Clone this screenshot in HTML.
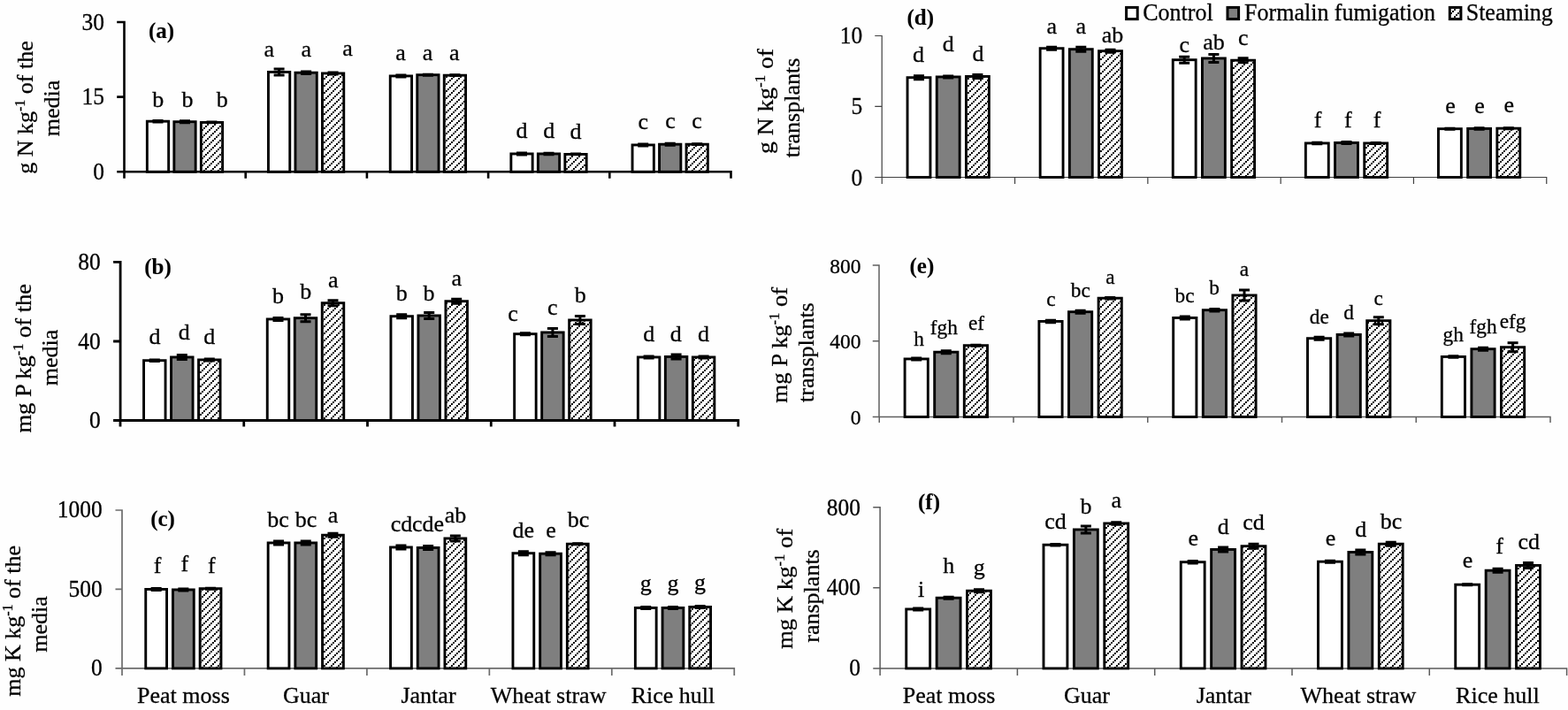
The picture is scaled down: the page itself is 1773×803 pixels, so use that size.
<!DOCTYPE html>
<html lang="en"><head><meta charset="utf-8"><title>Nutrient contents of media and transplants</title>
<style>
html,body{margin:0;padding:0;background:#fefefe;}
body{width:1773px;height:803px;overflow:hidden;}
svg{display:block;}
text{font-family:"Liberation Serif","DejaVu Serif",serif;font-size:26px;fill:#000;stroke:#000;stroke-width:0.28px;}
.m{text-anchor:middle;}.e{text-anchor:end;}.b{font-weight:bold;font-size:25px;stroke-width:0.1px;}
.sup{font-size:16px;}
.bar{stroke:#000;stroke-width:2.9;}
.eb{stroke:#000;stroke-width:3;fill:none;}
</style></head><body>
<svg width="1773" height="803" viewBox="0 0 1773 803">
<defs><pattern id="h" width="8" height="8" patternUnits="userSpaceOnUse"><rect width="8" height="8" fill="#fff"/><path d="M0,6h1.9v1.9h-1.9z M2,4h1.9v1.9h-1.9z M4,2h1.9v1.9h-1.9z M6,0h1.9v1.9h-1.9z" fill="#000"/></pattern></defs>
<rect width="1773" height="803" fill="#fefefe"/>
<g id="panel-a">
<path d="M140.5,23.7 V194.3 M132.2,194.3 H827.8 M132.2,25 H140.5 M132.2,109.6 H140.5 M140.5,194.3 V201.8 M277.7,194.3 V201.8 M414.9,194.3 V201.8 M552.1,194.3 V201.8 M689.3,194.3 V201.8 M826.5,194.3 V201.8" stroke="#000" stroke-width="2.6" fill="none"/>
<rect class="bar" x="166.35" y="137.2" width="24.3" height="57.1" fill="#fff"/>
<path class="eb" d="M178.5,136.4 V138 M172.5,136.4 H184.5 M172.5,138 H184.5"/>
<rect class="bar" x="196.85" y="137.7" width="24.3" height="56.6" fill="#7f7f7f"/>
<path class="eb" d="M209,136.7 V138.7 M203,136.7 H215 M203,138.7 H215"/>
<rect class="bar" x="227.35" y="138.45" width="24.3" height="55.85" fill="url(#h)"/>
<path class="eb" d="M239.5,138.05 V138.85 M233.5,138.05 H245.5 M233.5,138.85 H245.5"/>
<rect class="bar" x="303.45" y="81.45" width="24.3" height="112.85" fill="#fff"/>
<path class="eb" d="M315.6,77.95 V84.95 M309.6,77.95 H321.6 M309.6,84.95 H321.6"/>
<rect class="bar" x="333.95" y="82.2" width="24.3" height="112.1" fill="#7f7f7f"/>
<path class="eb" d="M346.1,81 V83.4 M340.1,81 H352.1 M340.1,83.4 H352.1"/>
<rect class="bar" x="364.45" y="82.95" width="24.3" height="111.35" fill="url(#h)"/>
<path class="eb" d="M376.6,81.95 V83.95 M370.6,81.95 H382.6 M370.6,83.95 H382.6"/>
<rect class="bar" x="441.25" y="85.95" width="24.3" height="108.35" fill="#fff"/>
<path class="eb" d="M453.4,84.95 V86.95 M447.4,84.95 H459.4 M447.4,86.95 H459.4"/>
<rect class="bar" x="471.75" y="84.7" width="24.3" height="109.6" fill="#7f7f7f"/>
<path class="eb" d="M483.9,84.2 V85.2 M477.9,84.2 H489.9 M477.9,85.2 H489.9"/>
<rect class="bar" x="502.25" y="85.2" width="24.3" height="109.1" fill="url(#h)"/>
<path class="eb" d="M514.4,84.8 V85.6 M508.4,84.8 H520.4 M508.4,85.6 H520.4"/>
<rect class="bar" x="577.85" y="173.95" width="24.3" height="20.35" fill="#fff"/>
<path class="eb" d="M590,172.95 V174.95 M584,172.95 H596 M584,174.95 H596"/>
<rect class="bar" x="608.35" y="173.95" width="24.3" height="20.35" fill="#7f7f7f"/>
<path class="eb" d="M620.5,173.15 V174.75 M614.5,173.15 H626.5 M614.5,174.75 H626.5"/>
<rect class="bar" x="638.85" y="174.45" width="24.3" height="19.85" fill="url(#h)"/>
<path class="eb" d="M651,174.05 V174.85 M645,174.05 H657 M645,174.85 H657"/>
<rect class="bar" x="715.05" y="163.95" width="24.3" height="30.35" fill="#fff"/>
<path class="eb" d="M727.2,162.95 V164.95 M721.2,162.95 H733.2 M721.2,164.95 H733.2"/>
<rect class="bar" x="745.55" y="163.2" width="24.3" height="31.1" fill="#7f7f7f"/>
<path class="eb" d="M757.7,162.2 V164.2 M751.7,162.2 H763.7 M751.7,164.2 H763.7"/>
<rect class="bar" x="776.05" y="163.2" width="24.3" height="31.1" fill="url(#h)"/>
<path class="eb" d="M788.2,162.8 V163.6 M782.2,162.8 H794.2 M782.2,163.6 H794.2"/>
<text class="e" transform="translate(118,33.6) scale(0.98,1.04)">30</text>
<text class="e" transform="translate(118,118.2) scale(0.98,1.04)">15</text>
<text class="e" transform="translate(118,202.9) scale(0.98,1.04)">0</text>
<text class="m" transform="translate(178.75,120.8) scale(1,1)">b</text>
<text class="m" transform="translate(212,120.8) scale(1,1)">b</text>
<text class="m" transform="translate(251.25,121.2) scale(1,1)">b</text>
<text class="m" transform="translate(304.25,63.6) scale(1,1)">a</text>
<text class="m" transform="translate(346.25,64.1) scale(1,1)">a</text>
<text class="m" transform="translate(393,62.5) scale(1,1)">a</text>
<text class="m" transform="translate(453,67.5) scale(1,1)">a</text>
<text class="m" transform="translate(483.5,67.5) scale(1,1)">a</text>
<text class="m" transform="translate(513.75,67.5) scale(1,1)">a</text>
<text class="m" transform="translate(590,155.75) scale(1,1)">d</text>
<text class="m" transform="translate(620.75,155.75) scale(1,1)">d</text>
<text class="m" transform="translate(651,157) scale(1,1)">d</text>
<text class="m" transform="translate(727.25,145.75) scale(1,1)">c</text>
<text class="m" transform="translate(758,145) scale(1,1)">c</text>
<text class="m" transform="translate(788,145) scale(1,1)">c</text>
<text class="m b" transform="translate(182.5,43) scale(1,1)">(a)</text>
<text class="m" transform="translate(36.8,121.5) rotate(-90) scale(1,1)">g N kg<tspan class="sup" dy="-9">-1</tspan><tspan dy="9"> of the</tspan></text>
<text class="m" transform="translate(66.6,122.5) rotate(-90) scale(1,1)">media</text>
</g>
<g id="panel-b">
<path d="M136.1,295 V475.5 M128.1,475.5 H836.15 M128.1,296.4 H136.1 M128.1,386 H136.1 M136,475.5 V482.5 M275.75,475.5 V482.5 M415.5,475.5 V482.5 M555.25,475.5 V482.5 M695,475.5 V482.5 M834.75,475.5 V482.5" stroke="#000" stroke-width="2.8" fill="none"/>
<rect class="bar" x="162.55" y="407.7" width="24.5" height="67.8" fill="#fff"/>
<path class="eb" d="M174.8,406.9 V408.5 M168.8,406.9 H180.8 M168.8,408.5 H180.8"/>
<rect class="bar" x="193.55" y="403.95" width="24.5" height="71.55" fill="#7f7f7f"/>
<path class="eb" d="M205.8,401.45 V406.45 M199.8,401.45 H211.8 M199.8,406.45 H211.8"/>
<rect class="bar" x="224.55" y="406.95" width="24.5" height="68.55" fill="url(#h)"/>
<path class="eb" d="M236.8,405.95 V407.95 M230.8,405.95 H242.8 M230.8,407.95 H242.8"/>
<rect class="bar" x="302.25" y="360.95" width="24.5" height="114.55" fill="#fff"/>
<path class="eb" d="M314.5,359.45 V362.45 M308.5,359.45 H320.5 M308.5,362.45 H320.5"/>
<rect class="bar" x="333.25" y="359.7" width="24.5" height="115.8" fill="#7f7f7f"/>
<path class="eb" d="M345.5,355.7 V363.7 M339.5,355.7 H351.5 M339.5,363.7 H351.5"/>
<rect class="bar" x="364.25" y="342.7" width="24.5" height="132.8" fill="url(#h)"/>
<path class="eb" d="M376.5,339.7 V345.7 M370.5,339.7 H382.5 M370.5,345.7 H382.5"/>
<rect class="bar" x="441.95" y="357.7" width="24.5" height="117.8" fill="#fff"/>
<path class="eb" d="M454.2,355.7 V359.7 M448.2,355.7 H460.2 M448.2,359.7 H460.2"/>
<rect class="bar" x="472.95" y="356.95" width="24.5" height="118.55" fill="#7f7f7f"/>
<path class="eb" d="M485.2,353.45 V360.45 M479.2,353.45 H491.2 M479.2,360.45 H491.2"/>
<rect class="bar" x="503.95" y="340.7" width="24.5" height="134.8" fill="url(#h)"/>
<path class="eb" d="M516.2,338.2 V343.2 M510.2,338.2 H522.2 M510.2,343.2 H522.2"/>
<rect class="bar" x="581.65" y="377.7" width="24.5" height="97.8" fill="#fff"/>
<path class="eb" d="M593.9,376.7 V378.7 M587.9,376.7 H599.9 M587.9,378.7 H599.9"/>
<rect class="bar" x="612.65" y="375.95" width="24.5" height="99.55" fill="#7f7f7f"/>
<path class="eb" d="M624.9,371.45 V380.45 M618.9,371.45 H630.9 M618.9,380.45 H630.9"/>
<rect class="bar" x="643.65" y="361.95" width="24.5" height="113.55" fill="url(#h)"/>
<path class="eb" d="M655.9,357.45 V366.45 M649.9,357.45 H661.9 M649.9,366.45 H661.9"/>
<rect class="bar" x="721.35" y="403.95" width="24.5" height="71.55" fill="#fff"/>
<path class="eb" d="M733.6,402.95 V404.95 M727.6,402.95 H739.6 M727.6,404.95 H739.6"/>
<rect class="bar" x="752.35" y="403.45" width="24.5" height="72.05" fill="#7f7f7f"/>
<path class="eb" d="M764.6,400.95 V405.95 M758.6,400.95 H770.6 M758.6,405.95 H770.6"/>
<rect class="bar" x="783.35" y="403.95" width="24.5" height="71.55" fill="url(#h)"/>
<path class="eb" d="M795.6,402.95 V404.95 M789.6,402.95 H801.6 M789.6,404.95 H801.6"/>
<text class="e" transform="translate(113.7,305) scale(0.98,1.04)">80</text>
<text class="e" transform="translate(113.7,394.6) scale(0.98,1.04)">40</text>
<text class="e" transform="translate(113.7,484.1) scale(0.98,1.04)">0</text>
<text class="m" transform="translate(175,389.25) scale(1,1)">d</text>
<text class="m" transform="translate(208.25,383.75) scale(1,1)">d</text>
<text class="m" transform="translate(236.75,388.75) scale(1,1)">d</text>
<text class="m" transform="translate(314.5,343) scale(1,1)">b</text>
<text class="m" transform="translate(345.75,338) scale(1,1)">b</text>
<text class="m" transform="translate(376.75,325) scale(1,1)">a</text>
<text class="m" transform="translate(454.25,339.5) scale(1,1)">b</text>
<text class="m" transform="translate(485,339.5) scale(1,1)">b</text>
<text class="m" transform="translate(516.25,322.5) scale(1,1)">a</text>
<text class="m" transform="translate(580,363) scale(1,1)">c</text>
<text class="m" transform="translate(624.75,356.25) scale(1,1)">c</text>
<text class="m" transform="translate(656.25,342) scale(1,1)">b</text>
<text class="m" transform="translate(733.75,386.25) scale(1,1)">d</text>
<text class="m" transform="translate(764.25,385.5) scale(1,1)">d</text>
<text class="m" transform="translate(795.5,385.5) scale(1,1)">d</text>
<text class="m b" transform="translate(178.5,310) scale(1,1)">(b)</text>
<text class="m" transform="translate(35.25,405.25) rotate(-90) scale(1.02,1)">mg P kg<tspan class="sup" dy="-9">-1</tspan><tspan dy="9"> of the</tspan></text>
<text class="m" transform="translate(65,404.5) rotate(-90) scale(1,1)">media</text>
</g>
<g id="panel-c">
<path d="M138,576.15 V755.9 M130.5,755.9 H831.1 M130.5,577 H138 M130.5,666.4 H138 M138,755.9 V764 M276.45,755.9 V764 M414.9,755.9 V764 M553.35,755.9 V764 M691.8,755.9 V764 M830.25,755.9 V764" stroke="#6c6c6c" stroke-width="1.7" fill="none"/>
<rect class="bar" x="164.75" y="666.45" width="23.8" height="89.45" fill="#fff"/>
<path class="eb" d="M176.65,665.45 V667.45 M170.65,665.45 H182.65 M170.65,667.45 H182.65"/>
<rect class="bar" x="195.45" y="666.95" width="23.8" height="88.95" fill="#7f7f7f"/>
<path class="eb" d="M207.35,665.95 V667.95 M201.35,665.95 H213.35 M201.35,667.95 H213.35"/>
<rect class="bar" x="226.15" y="665.7" width="23.8" height="90.2" fill="url(#h)"/>
<path class="eb" d="M238.05,665.2 V666.2 M232.05,665.2 H244.05 M232.05,666.2 H244.05"/>
<rect class="bar" x="303.15" y="613.95" width="23.8" height="141.95" fill="#fff"/>
<path class="eb" d="M315.05,611.95 V615.95 M309.05,611.95 H321.05 M309.05,615.95 H321.05"/>
<rect class="bar" x="333.85" y="613.95" width="23.8" height="141.95" fill="#7f7f7f"/>
<path class="eb" d="M345.75,611.95 V615.95 M339.75,611.95 H351.75 M339.75,615.95 H351.75"/>
<rect class="bar" x="364.55" y="605.2" width="23.8" height="150.7" fill="url(#h)"/>
<path class="eb" d="M376.45,603.2 V607.2 M370.45,603.2 H382.45 M370.45,607.2 H382.45"/>
<rect class="bar" x="441.55" y="618.95" width="23.8" height="136.95" fill="#fff"/>
<path class="eb" d="M453.45,616.95 V620.95 M447.45,616.95 H459.45 M447.45,620.95 H459.45"/>
<rect class="bar" x="472.25" y="619.45" width="23.8" height="136.45" fill="#7f7f7f"/>
<path class="eb" d="M484.15,617.45 V621.45 M478.15,617.45 H490.15 M478.15,621.45 H490.15"/>
<rect class="bar" x="502.95" y="608.95" width="23.8" height="146.95" fill="url(#h)"/>
<path class="eb" d="M514.85,605.95 V611.95 M508.85,605.95 H520.85 M508.85,611.95 H520.85"/>
<rect class="bar" x="579.95" y="625.7" width="23.8" height="130.2" fill="#fff"/>
<path class="eb" d="M591.85,623.7 V627.7 M585.85,623.7 H597.85 M585.85,627.7 H597.85"/>
<rect class="bar" x="610.65" y="626.2" width="23.8" height="129.7" fill="#7f7f7f"/>
<path class="eb" d="M622.55,624.7 V627.7 M616.55,624.7 H628.55 M616.55,627.7 H628.55"/>
<rect class="bar" x="641.35" y="615.2" width="23.8" height="140.7" fill="url(#h)"/>
<path class="eb" d="M653.25,614.7 V615.7 M647.25,614.7 H659.25 M647.25,615.7 H659.25"/>
<rect class="bar" x="718.35" y="687.45" width="23.8" height="68.45" fill="#fff"/>
<path class="eb" d="M730.25,686.45 V688.45 M724.25,686.45 H736.25 M724.25,688.45 H736.25"/>
<rect class="bar" x="749.05" y="687.45" width="23.8" height="68.45" fill="#7f7f7f"/>
<path class="eb" d="M760.95,686.45 V688.45 M754.95,686.45 H766.95 M754.95,688.45 H766.95"/>
<rect class="bar" x="779.75" y="686.45" width="23.8" height="69.45" fill="url(#h)"/>
<path class="eb" d="M791.65,685.45 V687.45 M785.65,685.45 H797.65 M785.65,687.45 H797.65"/>
<text class="e" transform="translate(115.7,585.3) scale(0.98,1.04)">1000</text>
<text class="e" transform="translate(115.7,674.7) scale(0.98,1.04)">500</text>
<text class="e" transform="translate(115.7,764.2) scale(0.98,1.04)">0</text>
<text class="m" transform="translate(178,648) scale(1,1)">f</text>
<text class="m" transform="translate(208.75,645.5) scale(1,1)">f</text>
<text class="m" transform="translate(239.25,647.5) scale(1,1)">f</text>
<text class="m" transform="translate(314.6,596.2) scale(1,1)">bc</text>
<text class="m" transform="translate(346.1,596.2) scale(1,1)">bc</text>
<text class="m" transform="translate(376.5,591.4) scale(1,1)">a</text>
<text class="m" transform="translate(454,601.4) scale(1,1)">cd</text>
<text class="m" transform="translate(484,601.4) scale(1,1)">cde</text>
<text class="m" transform="translate(515,591.25) scale(1,1)">ab</text>
<text class="m" transform="translate(591.75,608) scale(1,1)">de</text>
<text class="m" transform="translate(623,608) scale(1,1)">e</text>
<text class="m" transform="translate(654,596.25) scale(1,1)">bc</text>
<text class="m" transform="translate(730.3,668.3) scale(1,1)">g</text>
<text class="m" transform="translate(761,668.3) scale(1,1)">g</text>
<text class="m" transform="translate(791.6,667.4) scale(1,1)">g</text>
<text class="m b" transform="translate(184,595) scale(1,1)">(c)</text>
<text class="m" transform="translate(23.1,702.4) rotate(-90) scale(1,1)">mg K kg<tspan class="sup" dy="-9">-1</tspan><tspan dy="9"> of the</tspan></text>
<text class="m" transform="translate(52.7,706) rotate(-90) scale(1,1)">media</text>
<text class="m" transform="translate(207.4,795) scale(1,1)">Peat moss</text>
<text class="m" transform="translate(346,795) scale(1,1)">Guar</text>
<text class="m" transform="translate(484.5,795) scale(1,1)">Jantar</text>
<text class="m" transform="translate(620.1,795) scale(1,1)">Wheat straw</text>
<text class="m" transform="translate(761,795) scale(1,1)">Rice hull</text>
</g>
<g id="panel-d">
<path d="M997.2,39.9 V200.5 M989.25,200.5 H1749.35 M989.25,40.5 H997.2 M989.25,120.4 H997.2 M997.25,200.5 V208 M1147.55,200.5 V208 M1297.85,200.5 V208 M1448.15,200.5 V208 M1598.45,200.5 V208 M1748.75,200.5 V208" stroke="#404040" stroke-width="1.2" fill="none"/>
<rect class="bar" x="1026.05" y="87.7" width="25.9" height="112.8" fill="#fff"/>
<path class="eb" d="M1039,85.7 V89.7 M1033,85.7 H1045 M1033,89.7 H1045"/>
<rect class="bar" x="1059.25" y="86.95" width="25.9" height="113.55" fill="#7f7f7f"/>
<path class="eb" d="M1072.2,85.95 V87.95 M1066.2,85.95 H1078.2 M1066.2,87.95 H1078.2"/>
<rect class="bar" x="1092.45" y="86.45" width="25.9" height="114.05" fill="url(#h)"/>
<path class="eb" d="M1105.4,84.45 V88.45 M1099.4,84.45 H1111.4 M1099.4,88.45 H1111.4"/>
<rect class="bar" x="1176.15" y="54.7" width="25.9" height="145.8" fill="#fff"/>
<path class="eb" d="M1189.1,53.2 V56.2 M1183.1,53.2 H1195.1 M1183.1,56.2 H1195.1"/>
<rect class="bar" x="1209.35" y="55.7" width="25.9" height="144.8" fill="#7f7f7f"/>
<path class="eb" d="M1222.3,53.2 V58.2 M1216.3,53.2 H1228.3 M1216.3,58.2 H1228.3"/>
<rect class="bar" x="1242.55" y="57.7" width="25.9" height="142.8" fill="url(#h)"/>
<path class="eb" d="M1255.5,56.2 V59.2 M1249.5,56.2 H1261.5 M1249.5,59.2 H1261.5"/>
<rect class="bar" x="1326.25" y="67.7" width="25.9" height="132.8" fill="#fff"/>
<path class="eb" d="M1339.2,64.2 V71.2 M1333.2,64.2 H1345.2 M1333.2,71.2 H1345.2"/>
<rect class="bar" x="1359.45" y="65.95" width="25.9" height="134.55" fill="#7f7f7f"/>
<path class="eb" d="M1372.4,61.45 V70.45 M1366.4,61.45 H1378.4 M1366.4,70.45 H1378.4"/>
<rect class="bar" x="1392.65" y="68.2" width="25.9" height="132.3" fill="url(#h)"/>
<path class="eb" d="M1405.6,65.7 V70.7 M1399.6,65.7 H1411.6 M1399.6,70.7 H1411.6"/>
<rect class="bar" x="1476.35" y="161.95" width="25.9" height="38.55" fill="#fff"/>
<path class="eb" d="M1489.3,161.15 V162.75 M1483.3,161.15 H1495.3 M1483.3,162.75 H1495.3"/>
<rect class="bar" x="1509.55" y="161.45" width="25.9" height="39.05" fill="#7f7f7f"/>
<path class="eb" d="M1522.5,160.45 V162.45 M1516.5,160.45 H1528.5 M1516.5,162.45 H1528.5"/>
<rect class="bar" x="1542.75" y="161.95" width="25.9" height="38.55" fill="url(#h)"/>
<path class="eb" d="M1555.7,161.45 V162.45 M1549.7,161.45 H1561.7 M1549.7,162.45 H1561.7"/>
<rect class="bar" x="1626.45" y="145.7" width="25.9" height="54.8" fill="#fff"/>
<path class="eb" d="M1639.4,145.2 V146.2 M1633.4,145.2 H1645.4 M1633.4,146.2 H1645.4"/>
<rect class="bar" x="1659.65" y="145.45" width="25.9" height="55.05" fill="#7f7f7f"/>
<path class="eb" d="M1672.6,144.65 V146.25 M1666.6,144.65 H1678.6 M1666.6,146.25 H1678.6"/>
<rect class="bar" x="1692.85" y="145.2" width="25.9" height="55.3" fill="url(#h)"/>
<path class="eb" d="M1705.8,144.7 V145.7 M1699.8,144.7 H1711.8 M1699.8,145.7 H1711.8"/>
<text class="e" transform="translate(975.2,49) scale(0.98,1.04)">10</text>
<text class="e" transform="translate(975.2,129.2) scale(0.98,1.04)">5</text>
<text class="e" transform="translate(975.2,209.5) scale(0.98,1.04)">0</text>
<text class="m" transform="translate(1038.5,69.5) scale(1,1)">d</text>
<text class="m" transform="translate(1072.25,58) scale(1,1)">d</text>
<text class="m" transform="translate(1106,68.75) scale(1,1)">d</text>
<text class="m" transform="translate(1189.25,37.5) scale(1,1)">a</text>
<text class="m" transform="translate(1222.25,38) scale(1,1)">a</text>
<text class="m" transform="translate(1258,48) scale(1,1)">ab</text>
<text class="m" transform="translate(1339.25,58.75) scale(1,1)">c</text>
<text class="m" transform="translate(1372.5,55.5) scale(1,1)">ab</text>
<text class="m" transform="translate(1405.75,51.25) scale(1,1)">c</text>
<text class="m" transform="translate(1490,143.75) scale(1,1)">f</text>
<text class="m" transform="translate(1524.25,143.75) scale(1,1)">f</text>
<text class="m" transform="translate(1557,143.75) scale(1,1)">f</text>
<text class="m" transform="translate(1640,128) scale(1,1)">e</text>
<text class="m" transform="translate(1673,128) scale(1,1)">e</text>
<text class="m" transform="translate(1706.25,127) scale(1,1)">e</text>
<text class="m b" transform="translate(1040.75,28) scale(1,1)">(d)</text>
<text class="m" transform="translate(874,114.5) rotate(-90) scale(1.06,1)">g N kg<tspan class="sup" dy="-9">-1</tspan><tspan dy="9"> of</tspan></text>
<text class="m" transform="translate(903.5,122) rotate(-90) scale(1,1)">transplants</text>
</g>
<g id="panel-e">
<path d="M994,299.25 V471.5 M986.75,471.5 H1753.75 M986.75,300 H994 M986.75,385.75 H994 M994.25,471.5 V478 M1146,471.5 V478 M1297.75,471.5 V478 M1449.5,471.5 V478 M1601.25,471.5 V478 M1753,471.5 V478" stroke="#606060" stroke-width="1.5" fill="none"/>
<rect class="bar" x="1023.1" y="405.95" width="26.2" height="65.55" fill="#fff"/>
<path class="eb" d="M1036.2,404.95 V406.95 M1030.2,404.95 H1042.2 M1030.2,406.95 H1042.2"/>
<rect class="bar" x="1056.7" y="398.2" width="26.2" height="73.3" fill="#7f7f7f"/>
<path class="eb" d="M1069.8,396.7 V399.7 M1063.8,396.7 H1075.8 M1063.8,399.7 H1075.8"/>
<rect class="bar" x="1090.3" y="390.7" width="26.2" height="80.8" fill="url(#h)"/>
<path class="eb" d="M1103.4,390.2 V391.2 M1097.4,390.2 H1109.4 M1097.4,391.2 H1109.4"/>
<rect class="bar" x="1174.9" y="363.45" width="26.2" height="108.05" fill="#fff"/>
<path class="eb" d="M1188,362.25 V364.65 M1182,362.25 H1194 M1182,364.65 H1194"/>
<rect class="bar" x="1208.5" y="352.7" width="26.2" height="118.8" fill="#7f7f7f"/>
<path class="eb" d="M1221.6,351.2 V354.2 M1215.6,351.2 H1227.6 M1215.6,354.2 H1227.6"/>
<rect class="bar" x="1242.1" y="337.2" width="26.2" height="134.3" fill="url(#h)"/>
<path class="eb" d="M1255.2,336.4 V338 M1249.2,336.4 H1261.2 M1249.2,338 H1261.2"/>
<rect class="bar" x="1326.7" y="359.45" width="26.2" height="112.05" fill="#fff"/>
<path class="eb" d="M1339.8,357.95 V360.95 M1333.8,357.95 H1345.8 M1333.8,360.95 H1345.8"/>
<rect class="bar" x="1360.3" y="350.7" width="26.2" height="120.8" fill="#7f7f7f"/>
<path class="eb" d="M1373.4,349.5 V351.9 M1367.4,349.5 H1379.4 M1367.4,351.9 H1379.4"/>
<rect class="bar" x="1393.9" y="333.95" width="26.2" height="137.55" fill="url(#h)"/>
<path class="eb" d="M1407,327.95 V339.95 M1401,327.95 H1413 M1401,339.95 H1413"/>
<rect class="bar" x="1478.5" y="382.7" width="26.2" height="88.8" fill="#fff"/>
<path class="eb" d="M1491.6,381.2 V384.2 M1485.6,381.2 H1497.6 M1485.6,384.2 H1497.6"/>
<rect class="bar" x="1512.1" y="378.45" width="26.2" height="93.05" fill="#7f7f7f"/>
<path class="eb" d="M1525.2,376.95 V379.95 M1519.2,376.95 H1531.2 M1519.2,379.95 H1531.2"/>
<rect class="bar" x="1545.7" y="362.7" width="26.2" height="108.8" fill="url(#h)"/>
<path class="eb" d="M1558.8,358.7 V366.7 M1552.8,358.7 H1564.8 M1552.8,366.7 H1564.8"/>
<rect class="bar" x="1630.3" y="403.45" width="26.2" height="68.05" fill="#fff"/>
<path class="eb" d="M1643.4,402.65 V404.25 M1637.4,402.65 H1649.4 M1637.4,404.25 H1649.4"/>
<rect class="bar" x="1663.9" y="394.7" width="26.2" height="76.8" fill="#7f7f7f"/>
<path class="eb" d="M1677,393.2 V396.2 M1671,393.2 H1683 M1671,396.2 H1683"/>
<rect class="bar" x="1697.5" y="392.7" width="26.2" height="78.8" fill="url(#h)"/>
<path class="eb" d="M1710.6,387.7 V397.7 M1704.6,387.7 H1716.6 M1704.6,397.7 H1716.6"/>
<text class="e" style="font-size:23.5px" transform="translate(973.6,308.6) scale(1,1)">800</text>
<text class="e" style="font-size:23.5px" transform="translate(973.6,394.35) scale(1,1)">400</text>
<text class="e" style="font-size:23.5px" transform="translate(973.6,480.3) scale(1,1)">0</text>
<text class="m" style="font-size:23.3px" transform="translate(1039,391.25) scale(1,1)">h</text>
<text class="m" style="font-size:23.3px" transform="translate(1067.25,378.25) scale(1,1)">fgh</text>
<text class="m" style="font-size:23.3px" transform="translate(1104,373.25) scale(1,1)">ef</text>
<text class="m" style="font-size:23.3px" transform="translate(1188.5,345.5) scale(1,1)">c</text>
<text class="m" style="font-size:23.3px" transform="translate(1221.75,335.75) scale(1,1)">bc</text>
<text class="m" style="font-size:23.3px" transform="translate(1255.5,320.5) scale(1,1)">a</text>
<text class="m" style="font-size:23.3px" transform="translate(1339.5,342) scale(1,1)">bc</text>
<text class="m" style="font-size:23.3px" transform="translate(1373,332.5) scale(1,1)">b</text>
<text class="m" style="font-size:23.3px" transform="translate(1407,312) scale(1,1)">a</text>
<text class="m" style="font-size:23.3px" transform="translate(1491.75,365.5) scale(1,1)">de</text>
<text class="m" style="font-size:23.3px" transform="translate(1525,361.25) scale(1,1)">d</text>
<text class="m" style="font-size:23.3px" transform="translate(1558.75,345) scale(1,1)">c</text>
<text class="m" style="font-size:23.3px" transform="translate(1643.25,385.5) scale(1,1)">gh</text>
<text class="m" style="font-size:23.3px" transform="translate(1677,377) scale(1,1)">fgh</text>
<text class="m" style="font-size:23.3px" transform="translate(1710.5,371.25) scale(1,1)">efg</text>
<text class="m b" transform="translate(1042.4,308.75) scale(1,1)">(e)</text>
<text class="m" transform="translate(889.8,390.2) rotate(-90) scale(1.03,1)">mg P kg<tspan class="sup" dy="-9">-1</tspan><tspan dy="9"> of</tspan></text>
<text class="m" transform="translate(919.7,398.6) rotate(-90) scale(1,1)">transplants</text>
</g>
<g id="panel-f">
<path d="M995.1,573.05 V755.95 M987.25,755.95 H1772.35 M987.25,573.8 H995.1 M987.25,664.8 H995.1 M995.1,755.95 V764 M1150.4,755.95 V764 M1305.7,755.95 V764 M1461,755.95 V764 M1616.3,755.95 V764 M1771.6,755.95 V764" stroke="#5a5a5a" stroke-width="1.5" fill="none"/>
<rect class="bar" x="1024.75" y="688.95" width="26.9" height="67" fill="#fff"/>
<path class="eb" d="M1038.2,687.95 V689.95 M1032.2,687.95 H1044.2 M1032.2,689.95 H1044.2"/>
<rect class="bar" x="1059.15" y="676.2" width="26.9" height="79.75" fill="#7f7f7f"/>
<path class="eb" d="M1072.6,675.2 V677.2 M1066.6,675.2 H1078.6 M1066.6,677.2 H1078.6"/>
<rect class="bar" x="1093.55" y="668.2" width="26.9" height="87.75" fill="url(#h)"/>
<path class="eb" d="M1107,666.7 V669.7 M1101,666.7 H1113 M1101,669.7 H1113"/>
<rect class="bar" x="1180" y="616.2" width="26.9" height="139.75" fill="#fff"/>
<path class="eb" d="M1193.45,615.4 V617 M1187.45,615.4 H1199.45 M1187.45,617 H1199.45"/>
<rect class="bar" x="1214.4" y="598.95" width="26.9" height="157" fill="#7f7f7f"/>
<path class="eb" d="M1227.85,594.95 V602.95 M1221.85,594.95 H1233.85 M1221.85,602.95 H1233.85"/>
<rect class="bar" x="1248.8" y="591.95" width="26.9" height="164" fill="url(#h)"/>
<path class="eb" d="M1262.25,590.75 V593.15 M1256.25,590.75 H1268.25 M1256.25,593.15 H1268.25"/>
<rect class="bar" x="1335.25" y="635.7" width="26.9" height="120.25" fill="#fff"/>
<path class="eb" d="M1348.7,634.5 V636.9 M1342.7,634.5 H1354.7 M1342.7,636.9 H1354.7"/>
<rect class="bar" x="1369.65" y="621.45" width="26.9" height="134.5" fill="#7f7f7f"/>
<path class="eb" d="M1383.1,618.95 V623.95 M1377.1,618.95 H1389.1 M1377.1,623.95 H1389.1"/>
<rect class="bar" x="1404.05" y="617.7" width="26.9" height="138.25" fill="url(#h)"/>
<path class="eb" d="M1417.5,615.2 V620.2 M1411.5,615.2 H1423.5 M1411.5,620.2 H1423.5"/>
<rect class="bar" x="1490.5" y="635.2" width="26.9" height="120.75" fill="#fff"/>
<path class="eb" d="M1503.95,634.2 V636.2 M1497.95,634.2 H1509.95 M1497.95,636.2 H1509.95"/>
<rect class="bar" x="1524.9" y="624.45" width="26.9" height="131.5" fill="#7f7f7f"/>
<path class="eb" d="M1538.35,621.95 V626.95 M1532.35,621.95 H1544.35 M1532.35,626.95 H1544.35"/>
<rect class="bar" x="1559.3" y="615.2" width="26.9" height="140.75" fill="url(#h)"/>
<path class="eb" d="M1572.75,613.2 V617.2 M1566.75,613.2 H1578.75 M1566.75,617.2 H1578.75"/>
<rect class="bar" x="1645.75" y="661.2" width="26.9" height="94.75" fill="#fff"/>
<path class="eb" d="M1659.2,660.7 V661.7 M1653.2,660.7 H1665.2 M1653.2,661.7 H1665.2"/>
<rect class="bar" x="1680.15" y="645.2" width="26.9" height="110.75" fill="#7f7f7f"/>
<path class="eb" d="M1693.6,643.2 V647.2 M1687.6,643.2 H1699.6 M1687.6,647.2 H1699.6"/>
<rect class="bar" x="1714.55" y="639.45" width="26.9" height="116.5" fill="url(#h)"/>
<path class="eb" d="M1728,636.45 V642.45 M1722,636.45 H1734 M1722,642.45 H1734"/>
<text class="e" transform="translate(973,583) scale(0.98,1.04)">800</text>
<text class="e" transform="translate(973,673.2) scale(0.98,1.04)">400</text>
<text class="e" transform="translate(973,764.15) scale(0.98,1.04)">0</text>
<text class="m" transform="translate(1041.5,674.75) scale(1,1)">i</text>
<text class="m" transform="translate(1072.75,647.5) scale(1,1)">h</text>
<text class="m" transform="translate(1107.25,650) scale(1,1)">g</text>
<text class="m" transform="translate(1193.5,597.5) scale(1,1)">cd</text>
<text class="m" transform="translate(1228,580.5) scale(1,1)">b</text>
<text class="m" transform="translate(1262.25,574.25) scale(1,1)">a</text>
<text class="m" transform="translate(1349.25,616.75) scale(1,1)">e</text>
<text class="m" transform="translate(1383.25,604.25) scale(1,1)">d</text>
<text class="m" transform="translate(1417.5,598.75) scale(1,1)">cd</text>
<text class="m" transform="translate(1504.5,616.75) scale(1,1)">e</text>
<text class="m" transform="translate(1538.75,606.75) scale(1,1)">d</text>
<text class="m" transform="translate(1573,597.5) scale(1,1)">bc</text>
<text class="m" transform="translate(1659.5,642.25) scale(1,1)">e</text>
<text class="m" transform="translate(1695.5,626.25) scale(1,1)">f</text>
<text class="m" transform="translate(1728.75,620.5) scale(1,1)">cd</text>
<text class="m b" transform="translate(1050.5,576) scale(1,1)">(f)</text>
<text class="m" transform="translate(896,665.9) rotate(-90) scale(1.03,1)">mg K kg<tspan class="sup" dy="-9">-1</tspan><tspan dy="9"> of</tspan></text>
<text class="m" transform="translate(926,674) rotate(-90) scale(1,1)">ransplants</text>
<text class="m" transform="translate(1073.1,795) scale(1,1)">Peat moss</text>
<text class="m" transform="translate(1228.9,795) scale(1,1)">Guar</text>
<text class="m" transform="translate(1383.75,795) scale(1,1)">Jantar</text>
<text class="m" transform="translate(1535.9,795) scale(1,1)">Wheat straw</text>
<text class="m" transform="translate(1693.4,795) scale(1,1)">Rice hull</text>
</g>
<g id="legend">
<rect x="1273.6" y="8.4" width="12.6" height="13.2" fill="#fff" stroke="#000" stroke-width="3"/>
<text transform="translate(1292.2,23.3) scale(1,1.05)">Control</text>
<rect x="1388" y="8.4" width="12.6" height="13.2" fill="#7f7f7f" stroke="#000" stroke-width="3"/>
<text transform="translate(1407.1,23.3) scale(1,1.05)">Formalin fumigation</text>
<rect x="1639.3" y="8.4" width="12.6" height="13.2" fill="url(#h)" stroke="#000" stroke-width="3"/>
<text transform="translate(1657.7,23.3) scale(1,1.05)">Steaming</text>
</g>
</svg>
</body></html>
